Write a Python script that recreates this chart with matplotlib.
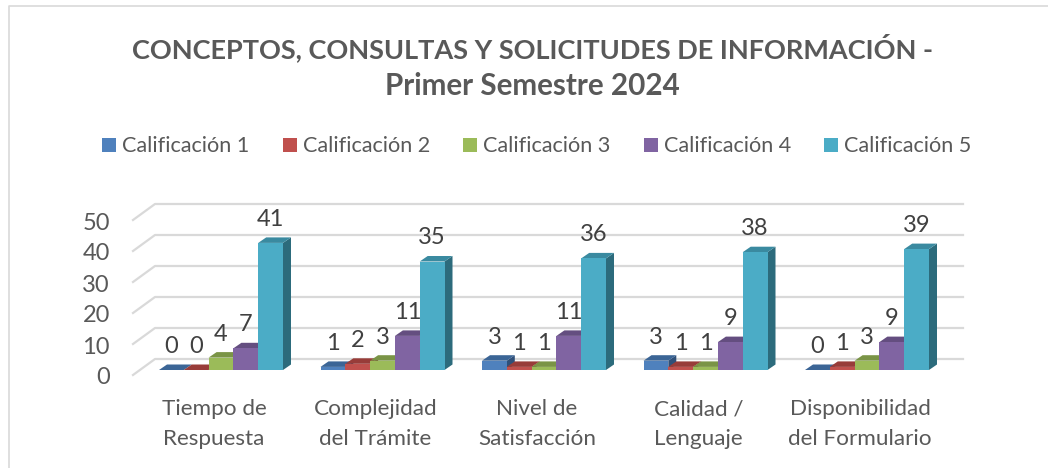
#!/usr/bin/env python3
"""Clustered bars with a fake 3D look: front faces from ax.bar, tops and sides as polygons."""
import matplotlib

matplotlib.use("Agg")
import matplotlib.pyplot as plt
from matplotlib.lines import Line2D
from matplotlib.patches import Polygon, Rectangle

categories = [
    "Tiempo de\nRespuesta",
    "Complejidad\ndel Trámite",
    "Nivel de\nSatisfacción",
    "Calidad /\nLenguaje",
    "Disponibilidad\ndel Formulario",
]
series_names = ["Calificación 1", "Calificación 2", "Calificación 3", "Calificación 4", "Calificación 5"]
calif_1 = [0, 1, 3, 3, 0]
calif_2 = [0, 2, 1, 1, 1]
calif_3 = [4, 3, 1, 1, 3]
calif_4 = [7, 11, 11, 9, 9]
calif_5 = [41, 35, 36, 38, 39]
y_ticks = [0, 10, 20, 30, 40, 50]

front_colors = ["#4F81BD", "#C0504D", "#9BBB59", "#8064A2", "#4BACC6"]
top_colors = ["#3B6596", "#983C39", "#7A9446", "#644E80", "#3A8AA0"]
side_colors = ["#2F5079", "#7A302E", "#617638", "#503E66", "#2C6B7C"]
TEXT = "#595959"
GRID = "#D9D9D9"

W, H = 1048, 468
DPI = 100
PX_X = 161.5   # px per category
PX_Y = 3.1     # px per value unit

plt.rcParams["font.family"] = ["Lato", "DejaVu Sans"]

fig = plt.figure(figsize=(W / DPI, H / DPI), dpi=DPI)

# the chart frame is cropped: only its top and left edges show
fig.add_artist(Line2D([9 / W, 9 / W, 1], [0, 1 - 6 / H, 1 - 6 / H], transform=fig.transFigure,
                      color=GRID, lw=1.2))

# axes spans the floor front corner (375 px) up to the top of the back wall (204 px)
ax = fig.add_axes([133 / W, 1 - 375 / H, 830 / W, 171 / H])
ax.set_xlim(-88 / PX_X, 742 / PX_X)
ax.set_ylim(-5 / PX_Y, 166 / PX_Y)
ax.axis("off")

wall_dx, wall_dy = 22 / PX_X, 16 / PX_Y
bar_dx, bar_dy = 8 / PX_X, 5.5 / PX_Y
bar_w = 24.8 / PX_X
x_left = ax.get_xlim()[0]
x_right = ax.get_xlim()[1]
y_floor = ax.get_ylim()[0]

for t in y_ticks:
    y0 = t + y_floor
    ax.plot([x_left, x_left + wall_dx, x_right], [y0, y0 + wall_dy, y0 + wall_dy],
            color=GRID, lw=1.6, clip_on=False, zorder=1)
    ax.text(x_left - 23 / PX_X, y0 - 3 / PX_Y, str(t), ha="right", va="center",
            fontsize=17, color=TEXT, clip_on=False)

all_series = [calif_1, calif_2, calif_3, calif_4, calif_5]
for s, values in enumerate(all_series):
    offset = (s - 2) * bar_w
    for i, v in enumerate(values):
        x0 = i + offset - bar_w / 2
        x1 = x0 + bar_w
        z = 3 + s * 0.01
        ax.bar(x0, v, width=bar_w, align="edge", color=front_colors[s], zorder=z + 0.002)
        ax.add_patch(Polygon([(x0, v), (x1, v), (x1 + bar_dx, v + bar_dy), (x0 + bar_dx, v + bar_dy)],
                             closed=True, fc=top_colors[s], ec="none", zorder=z + 0.001))
        ax.add_patch(Polygon([(x1, 0), (x1 + bar_dx, bar_dy), (x1 + bar_dx, v + bar_dy), (x1, v)],
                             closed=True, fc=side_colors[s], ec="none", zorder=z))
        ax.text(i + offset, v + 4.2, str(v), ha="center", va="bottom", fontsize=17,
                color="#404040", zorder=10, clip_on=False)

for i, cat in enumerate(categories):
    ax.text(i - 7 / PX_X, -9.5, cat, ha="center", va="top", fontsize=16.2,
            color=TEXT, linespacing=1.62, clip_on=False)

fig.text(532 / W, 1 - 48 / H, "CONCEPTOS, CONSULTAS Y SOLICITUDES DE INFORMACIÓN -",
         ha="center", va="center", fontsize=19.5, fontweight="bold", color=TEXT)
fig.text(532 / W, 1 - 86 / H, "Primer Semestre 2024",
         ha="center", va="center", fontsize=21.3, fontweight="bold", color=TEXT)

# legend placed by hand so it lines up with the original row
legend_x = [102, 283, 463, 644, 824]
for name, color, lx in zip(series_names, front_colors, legend_x):
    fig.add_artist(Rectangle((lx / W, 1 - 152 / H), 14 / W, 14 / H, transform=fig.transFigure,
                             fc=color, ec="none"))
    fig.text((lx + 20) / W, 1 - 146 / H, name, ha="left", va="center", fontsize=15.6, color=TEXT)

fig.savefig("out.png", dpi=DPI)
plt.close(fig)
